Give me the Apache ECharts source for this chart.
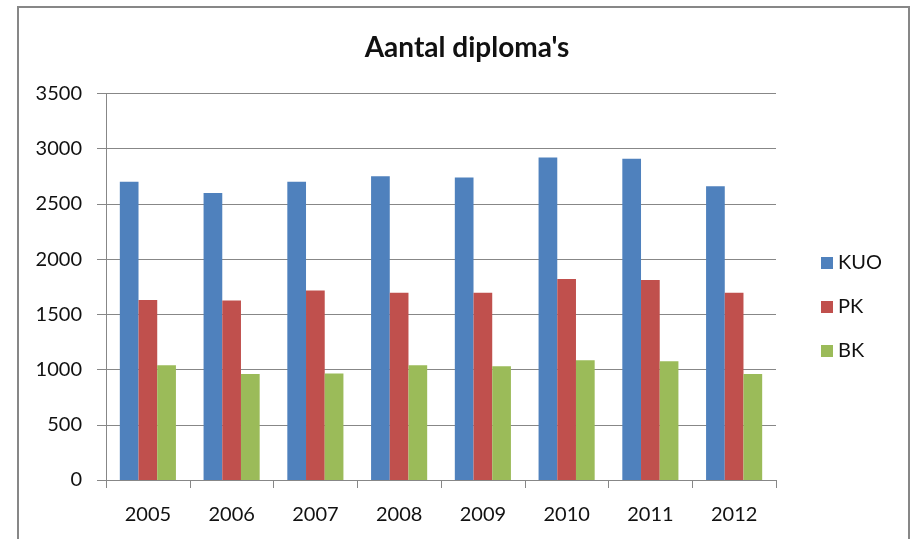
<!DOCTYPE html>
<html>
<head>
<meta charset="utf-8">
<title>Aantal diploma's</title>
<script src="https://cdn.jsdelivr.net/npm/echarts@6/dist/echarts.min.js"></script>
<style>
    html, body { margin: 0; padding: 0; background: #fff; }
    #chart { width: 911px; height: 539px; }
</style>
</head>
<body>
<div id="chart"></div>
<script>
// data
const years = ['2005', '2006', '2007', '2008', '2009', '2010', '2011', '2012'];
const kuo = [2700, 2600, 2700, 2750, 2740, 2920, 2910, 2660];
const pk = [1630, 1625, 1715, 1695, 1695, 1820, 1810, 1695];
const bk = [1040, 960, 965, 1040, 1030, 1085, 1075, 960];
const seriesNames = ['KUO', 'PK', 'BK'];
const colors = ['#4F81BD', '#C0504D', '#9BBB59'];

const font = 'Lato, "Open Sans", sans-serif';
const gray = '#878787';

const myChart = echarts.init(document.getElementById('chart'));

const makeBar = (name, data) => ({
    name,
    type: 'bar',
    data,
    barGap: 0,
    barCategoryGap: '33%',
});

myChart.setOption({
    animation: false,
    color: colors,
    textStyle: { fontFamily: font },
    title: {
        text: "Aantal diploma's",
        left: 462,
        textAlign: 'center',
        top: 29,
        textStyle: {
            fontFamily: font,
            fontSize: 28,
            fontWeight: 'bold',
            color: '#111',
        },
    },
    graphic: [
        {
            type: 'rect',
            shape: { x: 18, y: 7, width: 891, height: 560 },
            style: { fill: 'none', stroke: gray, lineWidth: 2 },
            silent: true,
        },
    ],
    legend: {
        orient: 'vertical',
        left: 816,
        top: 248,
        icon: 'rect',
        itemWidth: 12,
        itemHeight: 12,
        itemGap: 24,
        data: seriesNames,
        textStyle: { fontFamily: font, fontSize: 20, color: '#111' },
    },
    grid: {
        left: 106,
        right: 135,
        top: 93.5,
        bottom: 59,
        containLabel: false,
    },
    xAxis: {
        type: 'category',
        data: years,
        axisLine: { lineStyle: { color: gray, width: 1 } },
        axisTick: { show: true, length: 8, lineStyle: { color: gray } },
        axisLabel: { color: '#111', fontSize: 20, margin: 25, fontFamily: font },
    },
    yAxis: {
        type: 'value',
        min: 0,
        max: 3500,
        interval: 500,
        axisLine: { show: true, lineStyle: { color: gray, width: 1 } },
        axisTick: { show: true, length: 9, lineStyle: { color: gray } },
        axisLabel: {
            color: '#111',
            fontSize: 20,
            margin: 24,
            fontFamily: font,
            formatter: (v) => String(v),
        },
        splitLine: { lineStyle: { color: gray, width: 1 } },
    },
    series: [makeBar('KUO', kuo), makeBar('PK', pk), makeBar('BK', bk)],
});

window.addEventListener('resize', () => myChart.resize());
</script>
</body>
</html>
